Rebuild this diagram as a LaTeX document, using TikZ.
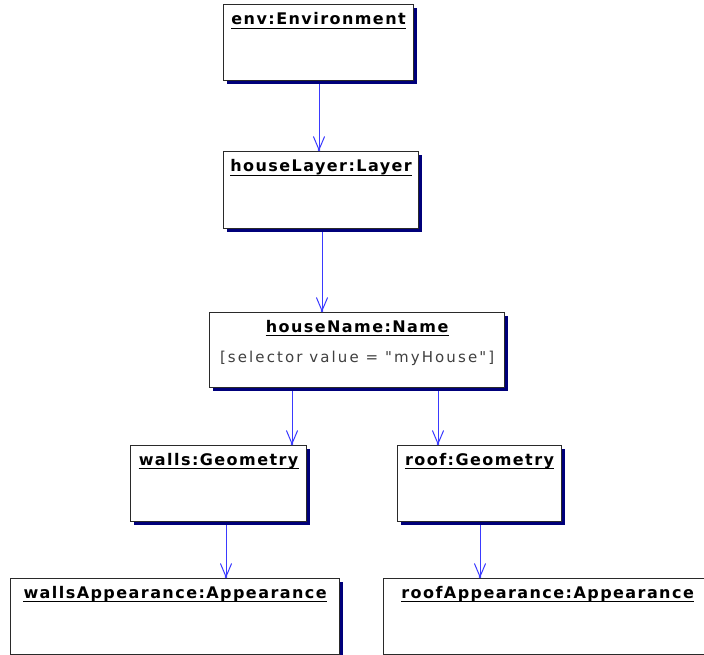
\documentclass[tikz,border=0pt]{standalone}
\usepackage{fontspec}
\newfontfamily\tfont[LetterSpace=9]{DejaVu Sans}
\newfontfamily\afont[LetterSpace=14]{DejaVu Sans}
\usetikzlibrary{arrows.meta,shadows,backgrounds}
\definecolor{shadowc}{HTML}{00007A}
\definecolor{arrc}{HTML}{3A3AFF}
\definecolor{borderc}{HTML}{2A2A2A}
\tikzset{
 objbox/.style={draw=borderc, line width=1.2pt, fill=white, inner sep=0pt, anchor=north west,
   drop shadow={shadow xshift=3.2pt, shadow yshift=-3.2pt, fill=shadowc, opacity=1}},
 objtitle/.style={inner sep=0pt, anchor=base, font=\tfont\bfseries\fontsize{16}{19}\selectfont},
 objattr/.style={inner sep=0pt, anchor=base, text=black!75, font=\afont\fontsize{15}{18}\selectfont},
 uline/.style={line width=1.2pt, draw=black},
 link/.style={draw=arrc, line width=1pt, -{Straight Barb[length=13pt,width=11pt,line cap=round]}},
 tipdot/.style={fill=arrc},
}
\begin{document}
\begin{tikzpicture}[x=1pt,y=1pt]
\useasboundingbox (0,0) rectangle (704,-655);
\begin{scope}[on background layer]
\fill[white] (0,0) rectangle (704,-655);
\end{scope}
\clip (0,0) rectangle (704,-655);
% boxes
\node[objbox, minimum width=190pt, minimum height=76pt] (env) at (223,-4) {};
\node[objbox, minimum width=195pt, minimum height=77pt] (hl) at (223,-151) {};
\node[objbox, minimum width=295pt, minimum height=75pt] (hn) at (209,-312) {};
\node[objbox, minimum width=176pt, minimum height=76pt] (walls) at (130,-445) {};
\node[objbox, minimum width=164pt, minimum height=76pt] (roof) at (397,-445) {};
\node[objbox, minimum width=329pt, minimum height=75.8pt] (wa) at (10,-578) {};
\node[objbox, minimum width=328pt, minimum height=75.8pt] (ra) at (383,-578) {};
% titles
\node[objtitle] (envT) at ([yshift=-21pt]env.north) {env:Environment};
\node[objtitle] (hlT) at ([yshift=-21pt]hl.north) {houseLayer:Layer};
\node[objtitle] (hnT) at ([yshift=-20pt]hn.north) {houseName:Name};
\node[objattr] (hnA) at ([yshift=-50pt]hn.north) {[selector value = "myHouse"]};
\node[objtitle] (wallsT) at ([yshift=-20pt]walls.north) {walls:Geometry};
\node[objtitle] (roofT) at ([yshift=-20pt]roof.north) {roof:Geometry};
\node[objtitle] (waT) at ([yshift=-20pt]wa.north) {wallsAppearance:Appearance};
\node[objtitle] (raT) at ([yshift=-20pt]ra.north) {roofAppearance:Appearance};
\foreach \t in {envT,hlT,hnT,wallsT,roofT,waT,raT}{
  \draw[uline] ([yshift=-3.5pt]\t.base west) -- ([yshift=-3.5pt]\t.base east);
}
% connector x positions
\coordinate (c1) at (319,0);
\coordinate (c2) at (322,0);
\coordinate (c3) at (292,0);
\coordinate (c4) at (438,0);
\coordinate (c5) at (226,0);
\coordinate (c6) at (480,0);
\begin{scope}[on background layer]
\draw[link] (env.south -| c1) -- (hl.north -| c1);
\draw[link] (hl.south -| c2) -- (hn.north -| c2);
\draw[link] (hn.south -| c3) -- (walls.north -| c3);
\draw[link] (hn.south -| c4) -- (roof.north -| c4);
\draw[link] (walls.south -| c5) -- (wa.north -| c5);
\draw[link] (roof.south -| c6) -- (ra.north -| c6);
\end{scope}
\foreach \n/\c in {hl/c1,hn/c2,walls/c3,roof/c4,wa/c5,ra/c6}{
  \fill[tipdot] ([yshift=1pt]\n.north -| \c) circle (1.4pt);
}
\end{tikzpicture}
\end{document}
